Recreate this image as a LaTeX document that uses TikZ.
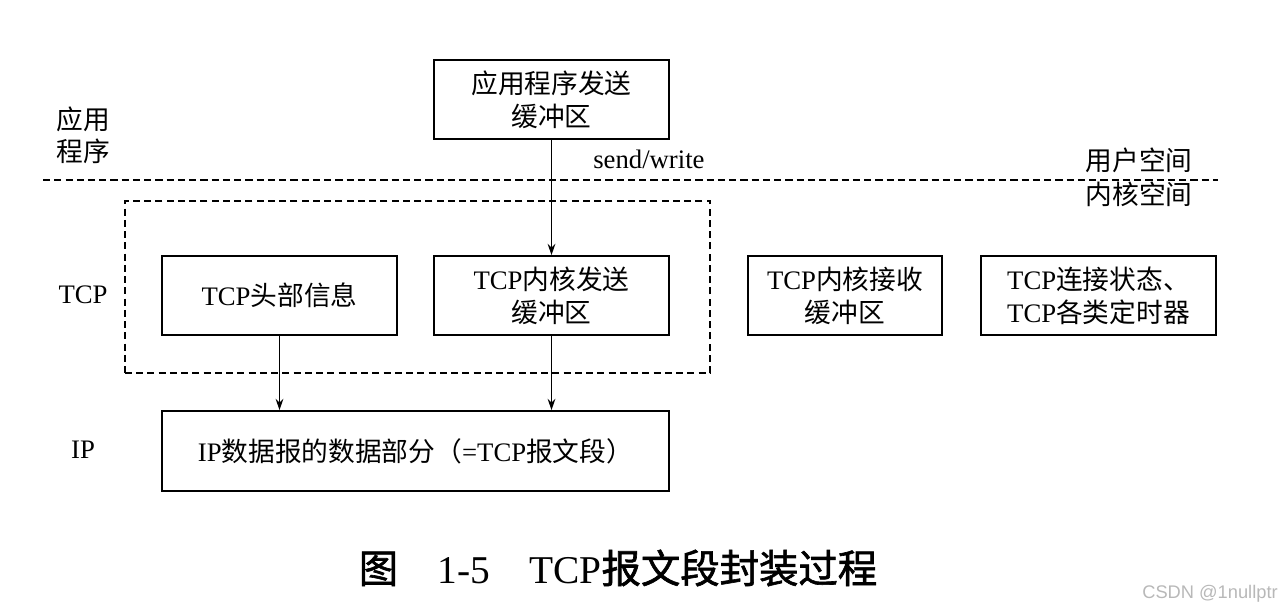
\documentclass[tikz,border=0pt]{standalone}
\usepackage{fontspec}
\setmainfont{Liberation Serif}
\newfontfamily\hanzi{Noto Sans CJK SC}
\newfontfamily\hanzititle{Noto Sans CJK SC}[FakeBold=1.6]
\newfontfamily\markfont{Liberation Sans}
\usetikzlibrary{positioning,arrows.meta}

\begin{document}
\begin{tikzpicture}[x=0.025cm,y=-0.025cm,
box/.style={draw, line width=1.3pt, minimum width=5.875cm, minimum height=1.975cm, align=center, inner sep=0pt, font=\fontsize{19}{23.5}\selectfont},
layer/.style={align=center, inner sep=0pt, font=\fontsize{19}{23}\selectfont},
group/.style={draw, line width=1.3pt, dash pattern=on 5pt off 3pt, minimum width=14.625cm, minimum height=4.3cm, inner sep=0pt},
flow/.style={-{Stealth[length=8pt,width=5.5pt]}, line width=0.8pt},
]
\useasboundingbox (0,0) rectangle (1280,616);

% user space / kernel space
\coordinate (ul) at (43,180);
\coordinate (ur) at (1218,180);
\draw[line width=1pt, dash pattern=on 5pt off 3pt] (ul) -- (ur);
\node[layer] (user) at (1139,160) {\hanzi 用户空间};
\node[layer] (kernel) at (1139,194) {\hanzi 内核空间};

% layer names
\node[layer] (app) at (83,135) {\hanzi 应用\\\hanzi 程序};
\node[layer] (tcp) at (83,295) {TCP};
\node[layer] (ip) at (83,450) {IP};

\node[box] (appbuf) at (551.5,99.5) {{\hanzi 应用程序发送}\\{\hanzi 缓冲区}};
\node[group] (grp) at (417.5,287) {};
\node[box] (hdr) at (279.5,295.5) {TCP{\hanzi 头部信息}};
\node[box] (sndbuf) at (551.5,295.5) {TCP{\hanzi 内核发送}\\{\hanzi 缓冲区}};
\node[box, minimum width=4.85cm] (rcvbuf) at (845,295.5) {TCP{\hanzi 内核接收}\\{\hanzi 缓冲区}};
\node[box] (state) at (1098.5,295.5) {TCP{\hanzi 连接状态、}\\TCP{\hanzi 各类定时器}};
\node[box, minimum width=12.675cm, minimum height=2cm] (seg) at (415.5,451) {IP{\hanzi 数据报的数据部分（}=TCP{\hanzi 报文段）}};

\node[layer, anchor=south west] (call) at (593,169) {send/write};

\draw[flow] (appbuf) -- (sndbuf);
\draw[flow] (hdr.south) -- (hdr.south |- seg.north);
\draw[flow] (sndbuf.south) -- (sndbuf.south |- seg.north);

% caption
\node[inner sep=0pt, font=\fontsize{28}{32}\selectfont] (caption) at (618,568) {{\hanzititle 图}\quad 1-5\quad TCP{\hanzititle 报文段封装过程}};
\node[inner sep=0pt, text=black!28, font=\markfont\fontsize{13}{15}\selectfont] (mark) at (1210,594) {CSDN @1nullptr};
\end{tikzpicture}
\end{document}
